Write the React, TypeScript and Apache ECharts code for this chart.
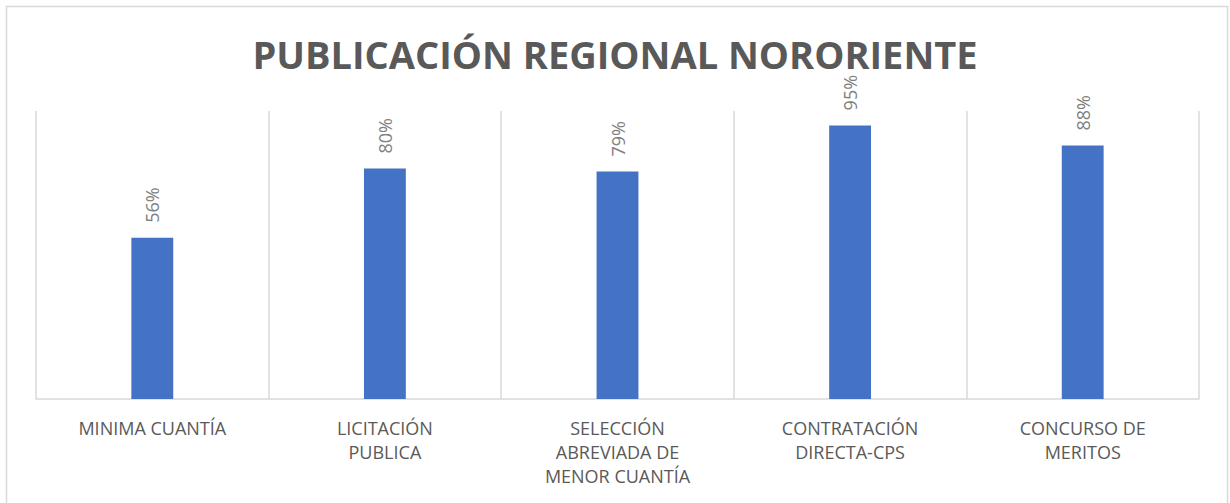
import React, { useEffect, useRef } from "react";
import * as echarts from "echarts";

const titleText = "PUBLICACIÓN REGIONAL NORORIENTE";
const categories = [
  "MINIMA CUANTÍA",
  "LICITACIÓN\nPUBLICA",
  "SELECCIÓN\nABREVIADA DE\nMENOR CUANTÍA",
  "CONTRATACIÓN\nDIRECTA-CPS",
  "CONCURSO DE\nMERITOS",
];
const values = [0.56, 0.8, 0.79, 0.95, 0.88];

export default function App() {
  const ref = useRef<HTMLDivElement>(null);
  useEffect(() => {
    document.body.style.margin = "0";
    if (!ref.current) return;
    const chart = echarts.init(ref.current, undefined, { renderer: "svg" });
    chart.setOption({
      animation: false,
      backgroundColor: "#ffffff",
      title: {
        text: titleText,
        left: "center",
        top: 30,
        textStyle: {
          fontFamily: "Open Sans",
          fontWeight: "bold",
          fontSize: 38,
          color: "#595959",
        },
      },
      graphic: [
        {
          type: "rect",
          shape: { x: 6.5, y: 6.5, width: 1221, height: 540 },
          style: { fill: "none", stroke: "#d9d9d9", lineWidth: 1.5 },
          silent: true,
          z: 0,
        },
      ],
      grid: { left: 36, right: 31, top: 111, bottom: 104 },
      xAxis: {
        type: "category",
        data: categories,
        axisLine: { show: true, lineStyle: { color: "#d9d9d9", width: 1.5 } },
        axisTick: { show: false },
        splitLine: { show: true, lineStyle: { color: "#d9d9d9", width: 1.5 } },
        axisLabel: {
          interval: 0,
          margin: 17,
          fontFamily: "Open Sans",
          fontSize: 18,
          lineHeight: 24,
          color: "#595959",
          align: "center",
        },
      },
      yAxis: {
        type: "value",
        min: 0,
        max: 1,
        show: false,
        splitLine: { show: false },
      },
      series: [
        {
          type: "bar",
          data: values,
          barWidth: "18%",
          itemStyle: { color: "#4472C4" },
        },
        {
          type: "custom",
          data: values.map((v, i) => [i, v]),
          silent: true,
          z: 5,
          renderItem: (params: any, api: any) => {
            const pt = api.coord([api.value(0), api.value(1)]);
            return {
              type: "text",
              x: pt[0],
              y: pt[1] - 15,
              rotation: Math.PI / 2,
              style: {
                text: Math.round(api.value(1) * 100) + "%",
                textAlign: "left",
                textVerticalAlign: "middle",
                align: "left",
                verticalAlign: "middle",
                fontFamily: "Open Sans",
                fontSize: 18,
                fill: "#808080",
              },
            };
          },
        },
      ],
    });
    return () => chart.dispose();
  }, []);
  return <div ref={ref} style={{ width: 1230, height: 503 }} />;
}
